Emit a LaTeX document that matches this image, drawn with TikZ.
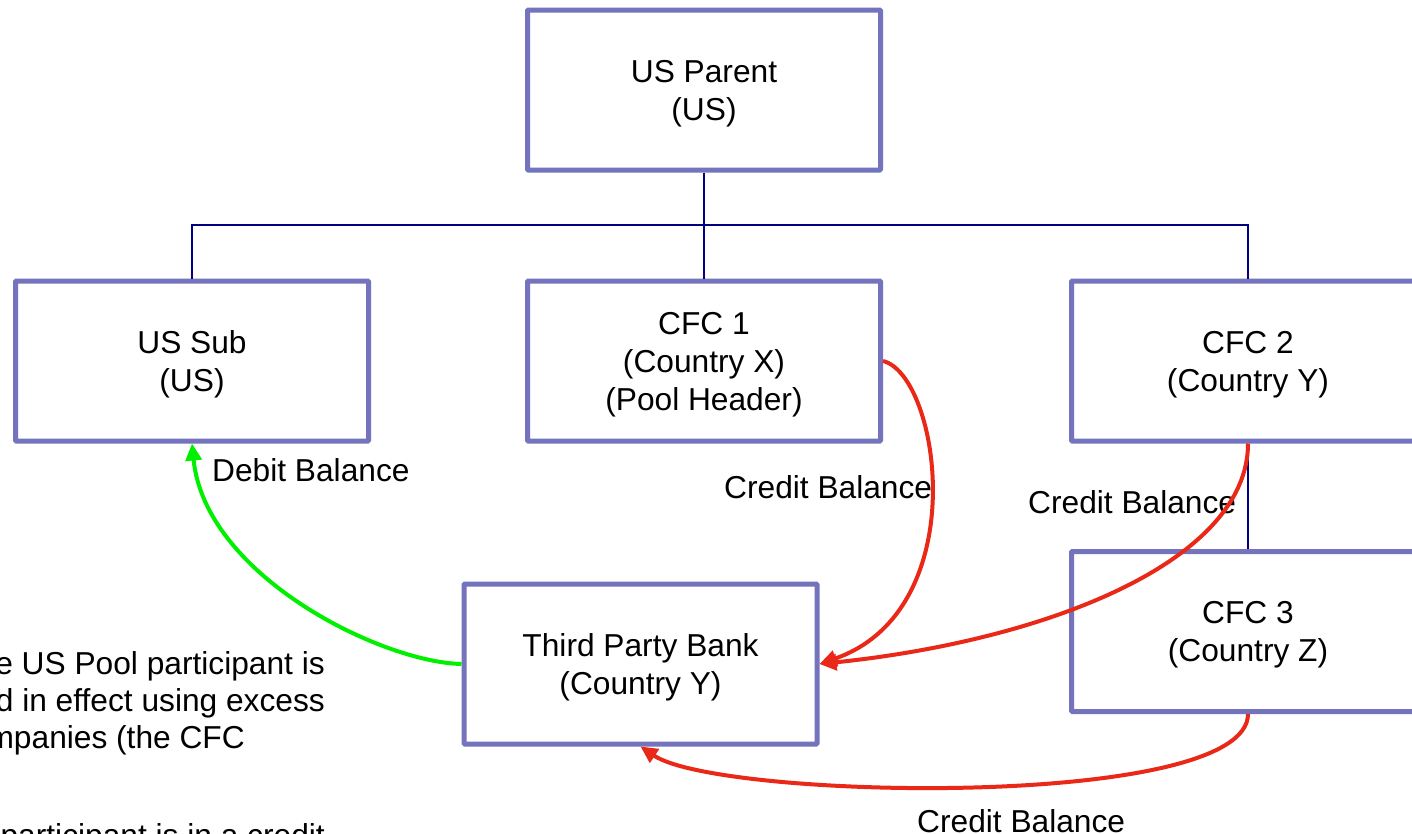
\documentclass[tikz,border=0pt]{standalone}
\usepackage{fontspec}
\setmainfont{Liberation Sans}
\usetikzlibrary{arrows.meta}
\definecolor{boxc}{RGB}{115,115,190}
\definecolor{treec}{RGB}{0,0,128}
\definecolor{redc}{RGB}{234,40,24}
\definecolor{greenc}{RGB}{0,240,0}
\tikzset{
  txt/.style={font=\fontsize{31.7}{38}\selectfont, inner sep=0pt},
  entity/.style={txt, draw=boxc, line width=5pt, rounded corners=1pt,
    minimum width=353pt, minimum height=160pt, align=center, fill=white,
    text depth=-3pt},
  treeline/.style={draw=treec, line width=2pt},
  flowred/.style={draw=redc, line width=4pt, -{Triangle[length=17pt,width=16pt]}},
  flowgreen/.style={draw=greenc, line width=4pt, -{Triangle[length=17pt,width=16pt]}},
}
\begin{document}
\begin{tikzpicture}[x=1pt,y=-1pt]
\useasboundingbox (0,0) rectangle (1412,833);
\clip (0,0) rectangle (1412,833);
\fill[white] (0,0) rectangle (1412,833);

% boxes
\coordinate (bus) at (0,225);
\node[entity] (par) at (704,90) {US Parent\\(US)};
\node[entity] (sub) at (192,361) {US Sub\\(US)};
\node[entity] (c1) at (704,361) {CFC 1\\(Country X)\\(Pool Header)};
\node[entity] (c2) at (1248,361) {CFC 2\\(Country Y)};
\node[entity] (c3) at (1248,631.5) {CFC 3\\(Country Z)};
\node[entity] (tp) at (640.5,664) {Third Party Bank\\(Country Y)};

% tree connectors
\draw[treeline] (par.south) -- (par.south |- bus);
\draw[treeline] (sub.north) |- (c2.north |- bus) -- (c2.north);
\draw[treeline] (par.south |- bus) -- (c1.north);
\draw[treeline] (c2.south) -- (c3.north);

% labels
\node[txt, anchor=base west] (ldeb) at (212,481) {Debit Balance};
\node[txt, anchor=base west] (lcr1) at (724,498) {Credit Balance};
\node[txt, anchor=base west] (lcr2) at (1028,513) {Credit Balance};
\node[txt, anchor=base west] (lcr3) at (917,832) {Credit Balance};

% side text (cut off at the left edge, as in the reference)
\node[txt, anchor=base east] (s1) at (325,674) {e US Pool participant is};
\node[txt, anchor=base east] (s2) at (325,711) {d in effect using excess};
\node[txt, anchor=base east] (s3) at (245,748) {mpanies (the CFC};
\node[txt, anchor=base east] (s4) at (325,846) {participant is in a credit};

% flows
\draw[flowgreen] (tp.west) .. controls (380,662) and (205,575) .. (sub.south);
\draw[flowred] (c1.east) .. controls (940,375) and (975,610) .. (tp.east);
\draw[flowred] (c2.south) .. controls (1248,560) and (1050,640) .. (tp.east);
\draw[flowred] (c3.south) .. controls (1248,810) and (720,800) .. (tp.south);
\end{tikzpicture}
\end{document}
